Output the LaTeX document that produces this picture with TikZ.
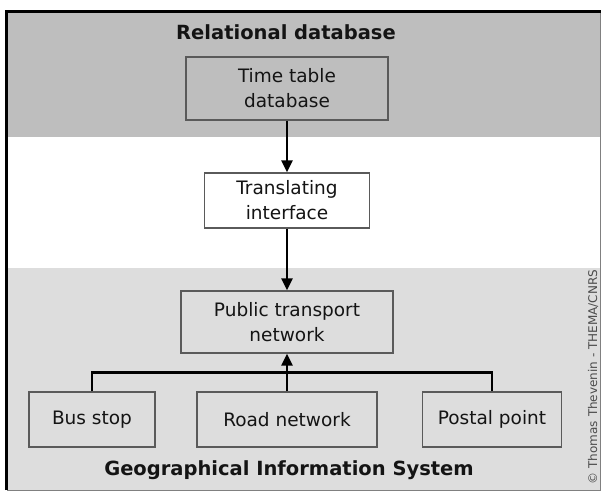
\documentclass[tikz,border=0pt]{standalone}
\usepackage{fontspec}
\setmainfont{DejaVu Sans}
\usetikzlibrary{arrows.meta}
\definecolor{topband}{RGB}{190,190,190}
\definecolor{botband}{RGB}{221,221,221}
\definecolor{boxline}{RGB}{90,90,90}
\definecolor{txt}{RGB}{20,20,20}
\tikzset{
  box/.style={draw=boxline, line width=1.4pt, inner sep=0pt, align=center,
    font=\fontsize{18.5}{25}\selectfont, text=txt},
  title/.style={font=\fontsize{19.5}{22}\selectfont\bfseries, text=txt},
  conn/.style={line width=2.5pt, draw=black},
  arr/.style={conn, -{Triangle[length=12pt,width=11pt]}},
  credit/.style={rotate=90, font=\fontsize{12}{14}\selectfont, text=gray!60!black},
}
\begin{document}
\begin{tikzpicture}[x=1pt,y=-1pt]
\useasboundingbox (0,0) rectangle (601,491);
\fill[white] (0,0) rectangle (601,491);
\fill[topband] (7,11) rectangle (600,137);
\fill[white] (7,137) rectangle (600,268);
\fill[botband] (7,268) rectangle (600,490);
\draw[gray, line width=1pt] (7,490) -- (600,490) -- (600,11);
\draw[black, line width=3pt] (6,490) -- (6,11) -- (601,11);

\node[title] (rdb) at (286,32) {Relational database};
\node[title] (gis) at (289,470) {Geographical Information System};

\node[box, fill=topband, minimum width=202pt, minimum height=63pt] (ttd) at (287,88.5) {Time table\\database};
\node[box, fill=white, minimum width=165pt, minimum height=55pt] (tri) at (287,200.5) {Translating\\interface};
\node[box, fill=botband, minimum width=212pt, minimum height=62pt] (ptn) at (287,322) {Public transport\\network};
\node[box, fill=botband, minimum width=126pt, minimum height=55pt] (bus) at (92,419.5) {Bus stop};
\node[box, fill=botband, minimum width=180pt, minimum height=55pt] (road) at (287,419.5) {Road network};
\node[box, fill=botband, minimum width=139pt, minimum height=55pt] (post) at (492,419.5) {Postal point};

\node[credit] (copy) at (593,377) {© Thomas Thevenin - THEMA/CNRS};

\draw[arr] (ttd.south) -- (tri.north);
\draw[arr] (tri.south) -- (ptn.north);
\draw[conn, line join=miter] (bus.north) -- ++(0,-19) -| (post.north);
\draw[arr] (road.north) -- (ptn.south);
\end{tikzpicture}
\end{document}
